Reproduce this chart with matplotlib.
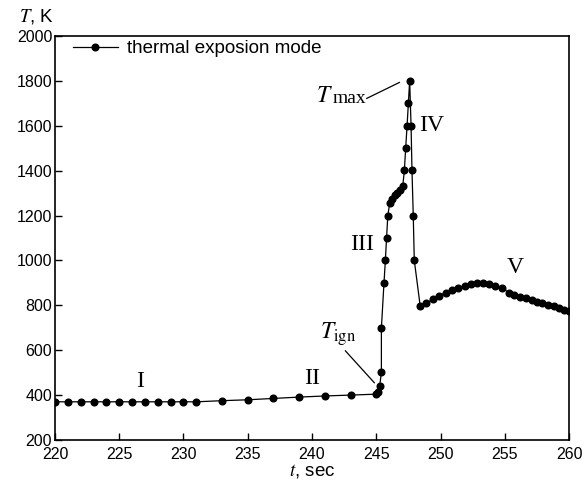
import matplotlib
matplotlib.use("Agg")
import matplotlib.pyplot as plt

plt.rcParams['font.family'] = ['Liberation Sans', 'DejaVu Sans']
plt.rcParams['mathtext.fontset'] = 'stix'

# time, sec
t = [220, 221, 222, 223, 224, 225, 226, 227, 228, 229, 230, 231,
     233, 235, 237, 239, 241, 243, 245.0, 245.1, 245.27, 245.4, 245.4,
     245.6, 245.71, 245.8, 245.9, 246.05, 246.25, 246.45, 246.65, 246.85, 247.06,
     247.19, 247.29, 247.4, 247.5, 247.6, 247.71, 247.78, 247.88, 247.96,
     248.42, 248.9, 249.4, 249.9, 250.4, 250.9, 251.4, 251.9, 252.35, 252.85,
     253.3, 253.8, 254.25, 254.75, 255.3, 255.75, 256.2, 256.65, 257.1, 257.5,
     257.9, 258.35, 258.8, 259.2, 259.6, 260]
# temperature, K
temp = [370, 370, 370, 370, 370, 370, 370, 370, 370, 370, 370, 370,
        375, 379, 385, 391, 396, 400, 404, 412, 441, 501, 698,
        898, 1000, 1098, 1200, 1255, 1275, 1290, 1302, 1315, 1330,
        1402, 1501, 1600, 1701, 1800, 1600, 1402, 1200, 1000,
        797, 809, 827, 843, 856, 868, 879, 887, 894, 900,
        898, 893, 887, 879, 857, 846, 839, 831, 823, 816,
        809, 802, 795, 787, 781, 775]

stage_names = ["I", "II", "III", "IV", "V"]
stage_t = [226.6, 240.0, 243.9, 249.3, 255.8]
stage_T = [460, 475, 1070, 1600, 970]

fig, ax = plt.subplots(figsize=(5.88, 4.84), dpi=100)
fig.subplots_adjust(left=0.0935, right=0.9677, bottom=0.091, top=0.9256)

ax.plot(t, temp, color='black', lw=0.9, marker='o', ms=4.8,
        label='thermal exposion mode')

ax.set_xlim(220, 260)
ax.set_ylim(200, 2000)
ax.set_xticks(range(220, 261, 5))
ax.set_yticks(range(200, 2001, 200))
ax.tick_params(direction='in', length=5, labelsize=11.5, width=1,
               top=False, right=False)
ax.tick_params(axis='x', pad=5)
ax.tick_params(axis='y', pad=2)
for s in ax.spines.values():
    s.set_linewidth(1.2)

for name, x, y in zip(stage_names, stage_t, stage_T):
    ax.text(x, y, name, fontsize=17, family='Liberation Serif',
            ha='center', va='center')

# T_max and T_ign leaders
ax.plot([244.26, 246.8], [1722, 1793], color='black', lw=0.9)
ax.text(240.3, 1707, r"$T$", fontsize=17, ha='left', va='baseline')
ax.text(241.6, 1702, "max", fontsize=14, family='Liberation Serif',
        ha='left', va='baseline')
ax.plot([242.6, 244.85], [597, 455], color='black', lw=0.9)
ax.text(240.6, 651, r"$T_{\rm ign}$", fontsize=17, ha='left', va='baseline')

ax.text(-0.07, 1.025, r"$T$, K", transform=ax.transAxes, fontsize=13.5,
        ha='left', va='bottom')
ax.set_xlabel(r"$t$, sec", fontsize=13.5, labelpad=0)

ax.legend(loc='upper left', frameon=False, fontsize=13.5, handlelength=2.4,
          handletextpad=0.5, borderpad=0, borderaxespad=0,
          bbox_to_anchor=(0.035, 0.99))

fig.savefig("out.png", dpi=100)
